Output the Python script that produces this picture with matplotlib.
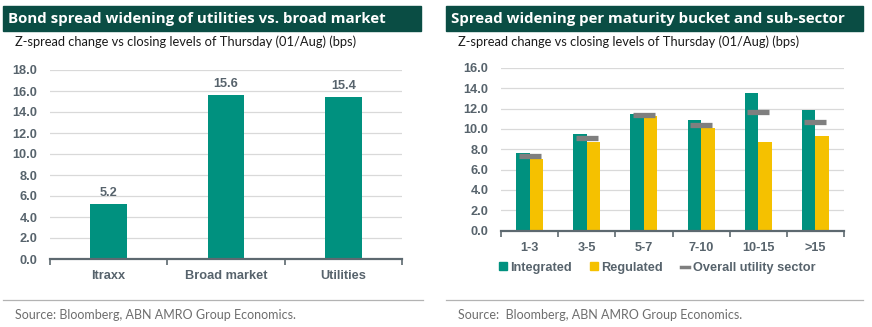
import numpy as np
import matplotlib
matplotlib.use('Agg')
import matplotlib.pyplot as plt
from matplotlib.patches import Patch, Rectangle
from matplotlib.lines import Line2D

# left panel: overall spread widening
market_labels = ['Itraxx', 'Broad market', 'Utilities']
market_change = [5.2, 15.6, 15.4]

# right panel: per maturity bucket
buckets = ['1-3', '3-5', '5-7', '7-10', '10-15', '>15']
integrated = [7.6, 9.5, 11.5, 10.9, 13.5, 11.85]
regulated = [7.0, 8.75, 11.3, 10.1, 8.7, 9.3]
overall = [7.3, 9.15, 11.4, 10.4, 11.65, 10.65]

TEAL = '#00917f'
YELLOW = '#f5c100'
GREY_MARK = '#7f7f7f'
HEADER = '#0a4d44'
AXIS_TXT = '#57636c'
GRID = '#d9d9d9'

W, H = 872, 327
fig = plt.figure(figsize=(W / 100, H / 100), dpi=100)


def px_axes(x0, x1, y_top, y_bot):
    return fig.add_axes([x0 / W, 1 - y_bot / H, (x1 - x0) / W, (y_bot - y_top) / H])


def header(x0, x1, title, subtitle):
    fig.patches.append(Rectangle((x0 / W, 1 - 31 / H), (x1 - x0) / W, 25 / H,
                                 transform=fig.transFigure, color=HEADER, zorder=0))
    fig.text((x0 + 5) / W, 1 - 18.5 / H, title, color='white', fontsize=10.8,
             fontweight='bold', family='Open Sans', va='center', ha='left')
    fig.text((x0 + 12) / W, 1 - 42 / H, subtitle, color='#1a1a1a', fontsize=9.3,
             family='Lato', va='center', ha='left')


def footer(x0, x1, text):
    fig.add_artist(Line2D([x0 / W, x1 / W], [1 - 300 / H, 1 - 300 / H],
                          transform=fig.transFigure, color='#b3b3b3', lw=0.9))
    fig.text((x0 + 12) / W, 1 - 315 / H, text, color='#6e6e6e', fontsize=9,
             family='Lato', va='center', ha='left')


def style_axes(ax, n, ymax):
    ax.set_ylim(0, ymax)
    ax.set_xlim(-0.5, n - 0.5)
    for s in ['top', 'right', 'left']:
        ax.spines[s].set_visible(False)
    ax.spines['bottom'].set_color('#5d6970')
    ax.spines['bottom'].set_linewidth(1.6)
    ax.yaxis.grid(True, color=GRID, lw=0.9)
    ax.set_axisbelow(True)
    ax.set_yticks(np.arange(0, ymax + 0.1, 2))
    ax.set_yticklabels(['%.1f' % v for v in np.arange(0, ymax + 0.1, 2)])
    ax.tick_params(axis='y', length=0, pad=9)
    ax.tick_params(axis='x', which='major', length=0, pad=8)
    ax.set_xticks(np.arange(-0.5, n), minor=True)
    ax.tick_params(axis='x', which='minor', length=4, width=1.2, color='#5d6970')
    for lab in ax.get_xticklabels() + ax.get_yticklabels():
        lab.set_family('Liberation Sans')
        lab.set_fontweight('bold')
        lab.set_color(AXIS_TXT)
        lab.set_fontsize(9.2)


# ---- left chart
header(3, 421, 'Bond spread widening of utilities vs. broad market',
       'Z-spread change vs closing levels of Thursday (01/Aug) (bps)')
ax1 = px_axes(50, 402, 70, 259)
x = np.arange(len(market_labels))
bars = ax1.bar(x, market_change, width=0.31, color=TEAL)
ax1.set_xticks(x)
ax1.set_xticklabels(market_labels)
style_axes(ax1, len(market_labels), 18)
for b, v in zip(bars, market_change):
    ax1.annotate('%.1f' % v, (b.get_x() + b.get_width() / 2, v), xytext=(0, 4),
                 textcoords='offset points', ha='center', va='bottom',
                 fontsize=9.2, fontweight='bold', family='Liberation Sans', color=AXIS_TXT)
footer(3, 423, 'Source: Bloomberg, ABN AMRO Group Economics.')

# ---- right chart
header(446, 863, 'Spread widening per maturity bucket and sub-sector',
       'Z-spread change vs closing levels of Thursday (01/Aug) (bps)')
ax2 = px_axes(501, 844, 68, 230.5)
x = np.arange(len(buckets))
bw = 0.236
ax2.bar(x - bw / 2, integrated, width=bw, color=TEAL)
ax2.bar(x + bw / 2, regulated, width=bw, color=YELLOW)
ax2.plot(x, overall, ls='none', marker='_', ms=16.5, mew=3.8, color=GREY_MARK, zorder=5)
ax2.set_xticks(x)
ax2.set_xticklabels(buckets)
style_axes(ax2, len(buckets), 16)

handles = [Patch(color=TEAL), Patch(color=YELLOW),
           Line2D([], [], color=GREY_MARK, lw=2.5)]
leg = ax2.legend(handles, ['Integrated', 'Regulated', 'Overall utility sector'],
                 loc='center', bbox_to_anchor=(0.455, -0.23), ncol=3, frameon=False,
                 handlelength=0.6, handleheight=0.6, handletextpad=0.3, columnspacing=1.4,
                 prop={'family': 'Liberation Sans', 'weight': 'bold', 'size': 9.2})
for t in leg.get_texts():
    t.set_color(AXIS_TXT)
footer(446, 863, 'Source:  Bloomberg, ABN AMRO Group Economics.')

fig.savefig('out.png', dpi=100, facecolor='white')
